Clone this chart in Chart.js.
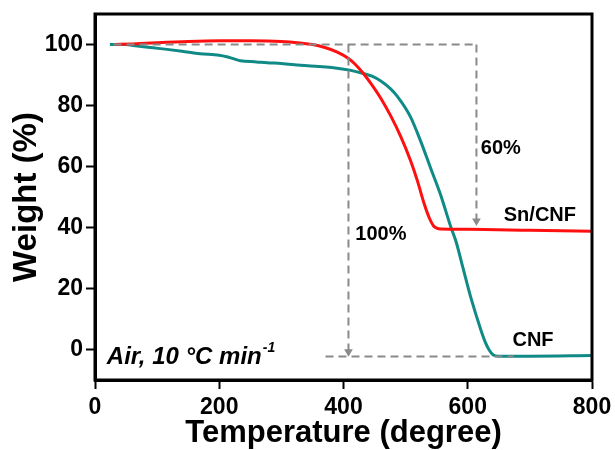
<!DOCTYPE html>
<html>
<head>
<meta charset="utf-8">
<script src="https://cdn.jsdelivr.net/npm/chart.js@4.4.1/dist/chart.umd.min.js"></script>
<style>
  html, body { margin: 0; padding: 0; background: #fff; }
  #wrap { width: 615px; height: 450px; }
</style>
</head>
<body>
<div id="wrap"><canvas id="tgaChart" width="615" height="450"></canvas></div>
<script>
// tick labels
const xTicks = [0, 200, 400, 600, 800];
const yTicks = [0, 20, 40, 60, 80, 100];

// Sn/CNF curve
const snTemp = [32, 60, 100, 150, 200, 250, 300, 330, 350, 370, 390, 408, 420, 432, 446, 460, 476, 492, 508, 519, 530, 538, 545, 550, 556, 600, 700, 800];
const snWeight = [100, 100.2, 100.6, 101, 101.2, 101.2, 101, 100.5, 100, 99, 97.5, 95.4, 93.3, 90.5, 86.7, 82.4, 76.6, 69.9, 61.9, 55.3, 47.7, 43.2, 40.5, 39.8, 39.5, 39.4, 39.1, 38.8];

// CNF curve
const cnfTemp = [24, 50, 61, 90, 116, 140, 169, 200, 212, 225, 234, 260, 277, 300, 331, 360, 384, 410, 432, 446, 460, 475, 487, 508, 524, 540, 556, 573, 581, 592, 605, 621, 628, 634, 641, 650, 700, 800];
const cnfWeight = [100, 100, 99.7, 99, 98.4, 97.8, 97, 96.5, 96, 95.2, 94.7, 94.3, 94, 93.8, 93.2, 92.8, 92.4, 91.6, 90.5, 89.6, 88.0, 85.6, 82.9, 76.2, 68.4, 59.6, 50.9, 40, 35.5, 27, 17, 6.5, 2.5, 0, -1.8, -2.2, -2.2, -2.0];

// dashed guide lines
const guideTopX = [30, 614];
const guideTopY = [100, 100];
const guideBottomX = [371, 674];
const guideBottomY = [-2.3, -2.3];
const guideLeftX = [408, 408];
const guideLeftY = [100, -0.7];
const guideRightX = [614, 614];
const guideRightY = [100, 42.1];

function pairs(xs, ys) {
    return xs.map((x, i) => ({ x: x, y: ys[i] }));
}

const gray = '#8a8a8a';
function guide(xs, ys, arrow) {
    return {
        data: pairs(xs, ys),
        borderColor: gray,
        borderWidth: 2,
        borderDash: [8, 5],
        pointRadius: arrow ? [0, 5] : 0,
        pointStyle: 'triangle',
        rotation: 180,
        pointBackgroundColor: gray,
        pointBorderWidth: 0,
        fill: false
    };
}

const family = '"Liberation Sans", Arial, sans-serif';

// text labels drawn on the plot
const notes = [
    { text: '60%', x: 621, y: 66 },
    { text: '100%', x: 419, y: 37.8 },
    { text: 'Sn/CNF', x: 658, y: 44 },
    { text: 'CNF', x: 672, y: 2.8 }
];

const notesPlugin = {
    id: 'notes',
    afterDraw(chart) {
        const ctx = chart.ctx;
        const xs = chart.scales.x, ys = chart.scales.y;
        const a = chart.chartArea;
        ctx.save();
        ctx.fillStyle = '#000';
        ctx.textBaseline = 'middle';
        ctx.textAlign = 'left';
        ctx.font = 'bold 20px ' + family;
        notes.forEach(n => {
            ctx.fillText(n.text, xs.getPixelForValue(n.x), ys.getPixelForValue(n.y));
        });
        // Air, 10 °C min-1
        const ax = xs.getPixelForValue(19);
        const ay = ys.getPixelForValue(-2.6);
        ctx.font = 'italic bold 24px ' + family;
        const main = 'Air, 10 \u00B0C min';
        ctx.fillText(main, ax, ay);
        const w = ctx.measureText(main).width;
        ctx.font = 'italic bold 14px ' + family;
        ctx.fillText('-1', ax + w + 1, ay - 9);
        // frame
        ctx.strokeStyle = '#000';
        ctx.lineWidth = 3;
        ctx.strokeRect(a.left, a.top, a.right - a.left, a.bottom - a.top);
        ctx.restore();
    }
};

const tickFont = { family: family, size: 23, weight: 'bold' };

new Chart(document.getElementById('tgaChart').getContext('2d'), {
    type: 'line',
    data: {
        datasets: [
            guide(guideTopX, guideTopY, false),
            guide(guideBottomX, guideBottomY, false),
            guide(guideLeftX, guideLeftY, true),
            guide(guideRightX, guideRightY, true),
            {
                label: 'Sn/CNF',
                data: pairs(snTemp, snWeight),
                borderColor: '#ff1010',
                borderWidth: 3,
                pointRadius: 0,
                cubicInterpolationMode: 'monotone',
                fill: false
            },
            {
                label: 'CNF',
                data: pairs(cnfTemp, cnfWeight),
                borderColor: '#108a87',
                borderWidth: 3,
                pointRadius: 0,
                cubicInterpolationMode: 'monotone',
                fill: false
            }
        ]
    },
    options: {
        responsive: false,
        animation: false,
        layout: { padding: { top: 14, right: 23, left: 0, bottom: 0 } },
        plugins: {
            legend: { display: false },
            tooltip: { enabled: false }
        },
        scales: {
            x: {
                type: 'linear',
                min: 0,
                max: 800,
                afterBuildTicks: (s) => { s.ticks = xTicks.map(v => ({ value: v })); },
                afterFit: (s) => { s.height = 70; s.paddingRight = 0; },
                ticks: { font: tickFont, color: '#000', padding: 5, maxRotation: 0 },
                grid: { drawOnChartArea: false, drawTicks: true, tickLength: 9, tickWidth: 2, tickColor: '#000' },
                border: { display: true, color: '#000', width: 3 },
                title: { display: true, text: 'Temperature (degree)', font: { family: family, size: 31, weight: 'bold' }, color: '#000', padding: { top: 0, bottom: -2 } }
            },
            y: {
                type: 'linear',
                min: -10,
                max: 110,
                afterBuildTicks: (s) => { s.ticks = yTicks.map(v => ({ value: v })); },
                afterFit: (s) => { s.width = 95; s.paddingTop = 0; },
                ticks: { font: tickFont, color: '#000', padding: 3 },
                grid: { drawOnChartArea: false, drawTicks: true, tickLength: 9, tickWidth: 2, tickColor: '#000' },
                border: { display: true, color: '#000', width: 3 },
                title: { display: true, text: 'Weight (%)', font: { family: family, size: 33, weight: 'bold' }, color: '#000', padding: { top: 7, bottom: 0 } }
            }
        }
    },
    plugins: [notesPlugin]
});
</script>
</body>
</html>
